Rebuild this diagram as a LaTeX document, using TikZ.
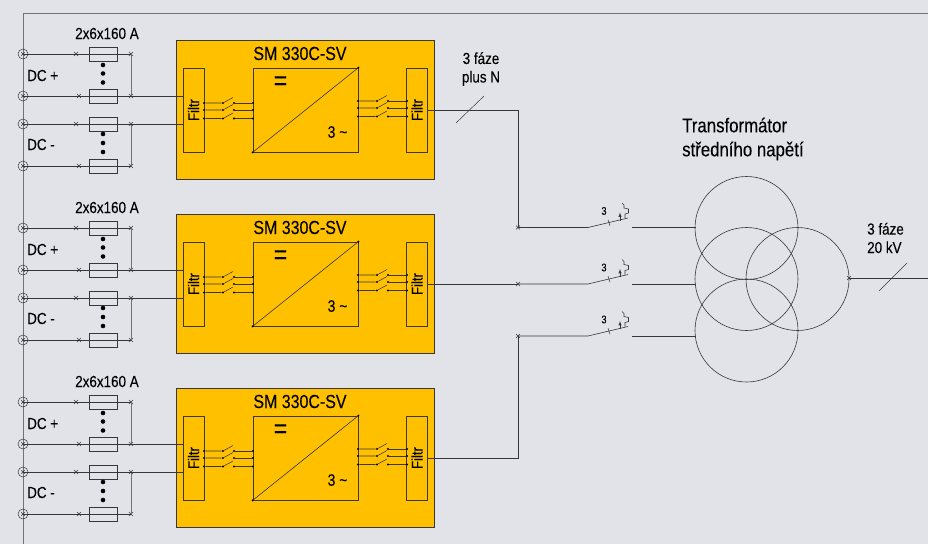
\documentclass[tikz,border=0pt]{standalone}
\usepackage{fontspec}
\setmainfont[FakeStretch=0.84,FakeBold=0.12]{Liberation Sans}
\usetikzlibrary{calc,shapes.misc}
\definecolor{bgplate}{RGB}{225,227,232}
\definecolor{unitfill}{RGB}{255,192,0}
\definecolor{wire}{RGB}{55,55,55}
\tikzset{
  wirestyle/.style={draw=wire,line width=0.6pt},
  xmark/.style={cross out,draw=wire,line width=0.5pt,inner sep=0pt,minimum size=3.4pt},
  termin/.style={circle,draw=wire,line width=0.5pt,inner sep=0pt,minimum size=10pt,path picture={
      \draw[wire,line width=0.5pt] ($(path picture bounding box.center)+(-1.7,-1.7)$) -- ($(path picture bounding box.center)+(1.7,1.7)$);
      \draw[wire,line width=0.5pt] ($(path picture bounding box.center)+(-1.7,1.7)$) -- ($(path picture bounding box.center)+(1.7,-1.7)$);}},
  fuse/.style={rectangle,draw=wire,line width=0.5pt,minimum width=28pt,minimum height=14pt,inner sep=0pt},
  dot/.style={circle,fill=black,inner sep=0pt,minimum size=4.6pt},
  endpt/.style={circle,fill=black,inner sep=0pt,minimum size=2.2pt},
  unitbox/.style={rectangle,draw=wire,line width=0.7pt,fill=unitfill,minimum width=258pt,minimum height=139pt,inner sep=0pt},
  filtrbox/.style={rectangle,draw=wire,line width=0.6pt,fill=unitfill,minimum width=21pt,minimum height=84pt,inner sep=0pt,font=\fontsize{15.5}{15.5}\selectfont},
  convbox/.style={rectangle,draw=wire,line width=0.7pt,fill=unitfill,minimum width=105pt,minimum height=84pt,inner sep=0pt},
  txt/.style={text=black,inner sep=0pt,font=\fontsize{16}{18.5}\selectfont,align=center},
  coil/.style={circle,draw=wire,line width=0.6pt,inner sep=0pt,minimum size=103pt},
}
\begin{document}
\begin{tikzpicture}[x=1pt,y=1pt,yscale=-1,xscale=1]
\useasboundingbox (0,0) rectangle (928,544);
\fill[bgplate] (0,0) rectangle (928,544);

% frame
\coordinate (frameA) at (928,13);
\coordinate (frameB) at (23,13);
\coordinate (frameC) at (23,544);
\draw[draw=black!55,line width=0.7pt] (frameA) -- (frameB) -- (frameC);

% inverter groups
\foreach \n/\d in {a/0,b/174,c/348}{
  % DC side
  \node[termin] (t1\n) at (23,54+\d) {};
  \node[termin] (t2\n) at (23,96+\d) {};
  \node[termin] (t3\n) at (23,124+\d) {};
  \node[termin] (t4\n) at (23,166+\d) {};
  \node[xmark] (x1\n) at (76,54+\d) {};
  \node[xmark] (x2\n) at (79,96+\d) {};
  \node[xmark] (x3\n) at (76,124+\d) {};
  \node[xmark] (x4\n) at (79,166+\d) {};
  \node[xmark] (j1\n) at (131,54+\d) {};
  \node[xmark] (j2\n) at (131,96+\d) {};
  \node[xmark] (j3\n) at (131,124+\d) {};
  \node[xmark] (j4\n) at (131,166+\d) {};
  \node[unitbox] (unit\n) at (305,109.5+\d) {};
  \node[filtrbox] (fl\n) at (193.5,110+\d) {\rotatebox{90}{Filtr}};
  \node[filtrbox] (fr\n) at (417,110+\d) {\rotatebox{90}{Filtr}};
  \node[convbox] (conv\n) at (305.5,110+\d) {};
  \foreach \i in {1,2,3,4}{
    \draw[wirestyle] (t\i\n.center) -- (j\i\n.center);
  }
  \draw[wirestyle,draw=black!55] (j1\n.center) -- (j2\n.center);
  \draw[wirestyle,draw=black!55] (j3\n.center) -- (j4\n.center);
  \draw[wirestyle] (j2\n.center) -- (j2\n -| fl\n.west);
  \draw[wirestyle] (j3\n.center) -- (j3\n -| fl\n.west);
  \node[fuse] (f1\n) at (103,54+\d) {};
  \node[fuse] (f2\n) at (103,96+\d) {};
  \node[fuse] (f3\n) at (103,124+\d) {};
  \node[fuse] (f4\n) at (103,166+\d) {};
  \foreach \k/\yy in {1/65,2/73.5,3/82.5,4/134,5/143,6/152}{
    \node[dot] (dot\k\n) at (103,\yy+\d) {};
  }
  \node[txt] (rating\n) at (107,33.5+\d) {2x6x160 A};
  \node[txt,anchor=west] (plus\n) at (27,75.5+\d) {DC +};
  \node[txt,anchor=west] (minus\n) at (27,144.5+\d) {DC -};
  % unit
  \node[txt,font=\fontsize{19}{22}\selectfont] (title\n) at (300,53.5+\d) {SM 330C-SV};
  \draw[wirestyle] (conv\n.south west) -- (conv\n.north east);
  \node[endpt] (cs\n) at (conv\n.south west) {};
  \node[endpt] (ce\n) at (conv\n.north east) {};
  \node[txt,font=\fontsize{27}{27}\selectfont] (eq\n) at (280.5,83+\d) {=};
  \node[txt,font=\fontsize{16.5}{16.5}\selectfont] (ac\n) at (337.5,132+\d) {3 \char"7E};
  % contactors
  \foreach \s/\a/\b in {1/103/101,2/110/108,3/118.5/116.5}{
    \node[endpt] (la\s\n) at (204,\a+\d) {};
    \node[endpt] (lb\s\n) at (223,\a+\d) {};
    \coordinate (lc\s\n) at (233,\a-5.5+\d);
    \node[endpt] (ld\s\n) at (234,\a+\d) {};
    \node[endpt] (le\s\n) at (253,\a+\d) {};
    \draw[wire,line width=0.55pt] (la\s\n) -- (lb\s\n) -- (lc\s\n);
    \draw[wire,line width=0.55pt] (ld\s\n) -- (le\s\n);
    \node[endpt] (ra\s\n) at (358,\b+\d) {};
    \node[endpt] (rb\s\n) at (377,\b+\d) {};
    \coordinate (rc\s\n) at (387,\b-5.5+\d);
    \node[endpt] (rd\s\n) at (388,\b+\d) {};
    \node[endpt] (re\s\n) at (407,\b+\d) {};
    \draw[wire,line width=0.55pt] (ra\s\n) -- (rb\s\n) -- (rc\s\n);
    \draw[wire,line width=0.55pt] (rd\s\n) -- (re\s\n);
  }
}

% three phase lines
\node[xmark] (pa) at (518,227.5) {};
\node[xmark] (pb) at (518,284) {};
\node[xmark] (pc) at (518,336) {};
\coordinate (ka) at (518,110);
\coordinate (kc) at (518,458);
\draw[wirestyle] (fra.east |- ka) -- (ka) -- (pa.center);
\draw[wirestyle] (frc.east |- kc) -- (kc) -- (pc.center);
\draw[wirestyle] (frb.east |- pb) -- (pb.center);

% breakers
\foreach \n/\y in {a/227.5,b/284,c/336}{
  \coordinate (bs\n) at (588,\y);
  \coordinate (be\n) at (628,\y-9.5);
  \coordinate (bt\n) at (609,\y-4.7);
  \coordinate (ba\n) at (620,\y-7);
  \coordinate (br\n) at (632,\y);
  \coordinate (bo\n) at (695.5,\y);
  \draw[wirestyle] (p\n.center) -- (bs\n) -- (be\n);
  \draw[wirestyle] (br\n) -- (bo\n);
  \draw[wire,line width=0.5pt] ($(bt\n)+(-1,-3)$) -- ($(bt\n)+(1,3)$);
  \draw[wire,line width=0.5pt,-latex] (ba\n) -- ++(0,-8);
  \draw[wire,line width=0.6pt] ($(be\n)+(-3,0)$) -- ++(0,-4) -- ++(3.5,-1) -- ++(0,-4) -- ++(-4.5,-1) -- ++(0,-3) -- ++(-2,-2);
  \node[txt,font=\fontsize{11}{11}\selectfont] (bn\n) at (604,\y-16.5) {3};
}

% transformer
\node[coil] (top) at (746.5,228) {};
\node[coil] (mid) at (746.5,279) {};
\node[coil] (bot) at (746.5,330.5) {};
\node[coil] (rgt) at (797.5,279) {};
\node[xmark] (hv) at (849,278) {};
\coordinate (hvend) at (928,278);
\draw[wirestyle] (hv.center) -- (hvend);

% bus slashes
\coordinate (sa) at (456,123);
\coordinate (sb) at (484,96);
\coordinate (sc) at (879,291);
\coordinate (sd) at (907,263);
\draw[wirestyle,line width=0.5pt] (sa) -- (sb);
\draw[wirestyle,line width=0.5pt] (sc) -- (sd);

% Text Node
\node[txt] (busl) at (481,69) {3 fáze\\plus N};
\node[txt,align=left,font=\fontsize{20}{24}\selectfont,anchor=west] (trafo) at (682,139) {Transformátor\\středního napětí};
\node[txt,align=left,anchor=west] (hvl) at (867,238) {3 fáze\\20 kV};
\end{tikzpicture}
\end{document}
